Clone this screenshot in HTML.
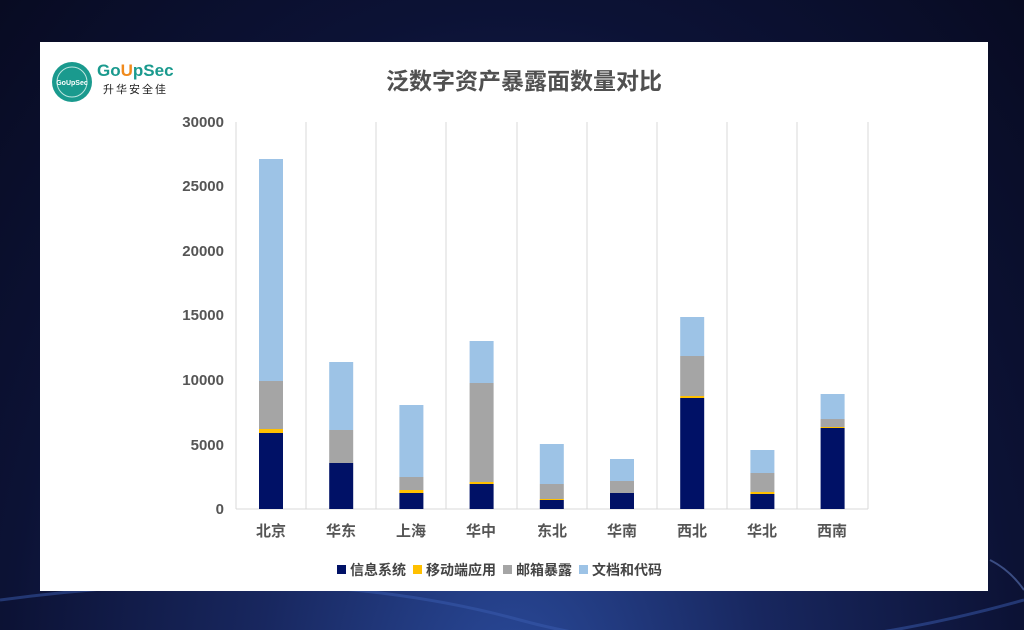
<!DOCTYPE html>
<html><head><meta charset="utf-8"><style>
body{margin:0;width:1024px;height:630px;overflow:hidden;background:radial-gradient(ellipse at 50% 110%,#2a4a9a 0%,#18275f 35%,#0c1235 70%,#080b22 100%);font-family:"Liberation Sans","Noto Sans CJK SC",sans-serif;position:relative}
</style></head><body>
<svg width="1024" height="630" style="position:absolute;left:0;top:0">
<path d="M0 600 Q300 560 520 620 T1024 600" stroke="#3a5cb0" stroke-width="3" fill="none" opacity=".5"/>
<path d="M990 560 Q1010 570 1024 590" stroke="#6a88d0" stroke-width="2" fill="none" opacity=".5"/>
<rect x="40" y="42" width="948" height="549" fill="#fff"/>
<circle cx="72" cy="82" r="20" fill="#1a9a8e"/>
<circle cx="72" cy="82" r="15" fill="none" stroke="#bfe6e0" stroke-width="1"/>
<text x="72" y="85" font-size="7" font-weight="bold" fill="#fff" text-anchor="middle">GoUpSec</text>
<text x="97" y="76" font-size="17" font-weight="bold" fill="#1a9a8e">Go<tspan fill="#f08a1c">U</tspan>pSec</text>
<text x="103" y="93" font-size="11" fill="#222" letter-spacing="2">升华安全佳</text>
<text x="524" y="89" font-size="23" font-weight="bold" fill="#505050" text-anchor="middle">泛数字资产暴露面数量对比</text>
<g font-size="15" font-weight="bold" fill="#555" text-anchor="end">
<text x="224" y="514">0</text><text x="224" y="450">5000</text><text x="224" y="385">10000</text><text x="224" y="320">15000</text><text x="224" y="256">20000</text><text x="224" y="191">25000</text><text x="224" y="127">30000</text>
</g>
<g stroke="#d9d9d9" stroke-width="1">
<line x1="236" y1="122" x2="236" y2="509"/><line x1="306" y1="122" x2="306" y2="509"/><line x1="376" y1="122" x2="376" y2="509"/><line x1="446" y1="122" x2="446" y2="509"/><line x1="517" y1="122" x2="517" y2="509"/><line x1="587" y1="122" x2="587" y2="509"/><line x1="657" y1="122" x2="657" y2="509"/><line x1="727" y1="122" x2="727" y2="509"/><line x1="797" y1="122" x2="797" y2="509"/><line x1="868" y1="122" x2="868" y2="509"/>
<line x1="236" y1="509" x2="868" y2="509"/>
</g>
<g id="bars"></g>
<g font-size="15" font-weight="bold" fill="#555" text-anchor="middle">
<text x="271" y="536">北京</text><text x="341" y="536">华东</text><text x="411" y="536">上海</text><text x="481" y="536">华中</text><text x="552" y="536">东北</text><text x="622" y="536">华南</text><text x="692" y="536">西北</text><text x="762" y="536">华北</text><text x="832" y="536">西南</text>
</g>
<g font-size="14" font-weight="bold" fill="#444">
<rect x="337" y="565" width="9" height="9" fill="#001166"/><text x="350" y="575">信息系统</text>
<rect x="413" y="565" width="9" height="9" fill="#ffc000"/><text x="426" y="575">移动端应用</text>
<rect x="503" y="565" width="9" height="9" fill="#a5a5a5"/><text x="516" y="575">邮箱暴露</text>
<rect x="579" y="565" width="9" height="9" fill="#9dc3e6"/><text x="592" y="575">文档和代码</text>
</g>
</svg>
<script>
var d=[[433,429,381,159],[463,463,430,362],[493,490,477,405],[484,482,383,341],[500,499,484,444],[493,493,481,459],[398,396,356,317],[494,492,473,450],[428,427,419,394]];
var c=["#001166","#ffc000","#a5a5a5","#9dc3e6"],g=document.getElementById("bars"),s="";
d.forEach(function(b,i){var x=271+70.2*i-12,prev=509;b.forEach(function(t,j){if(prev>t)s+='<rect x="'+x+'" y="'+t+'" width="24" height="'+(prev-t)+'" fill="'+c[j]+'"/>';prev=t;});});
g.innerHTML=s;
</script>
</body></html>
